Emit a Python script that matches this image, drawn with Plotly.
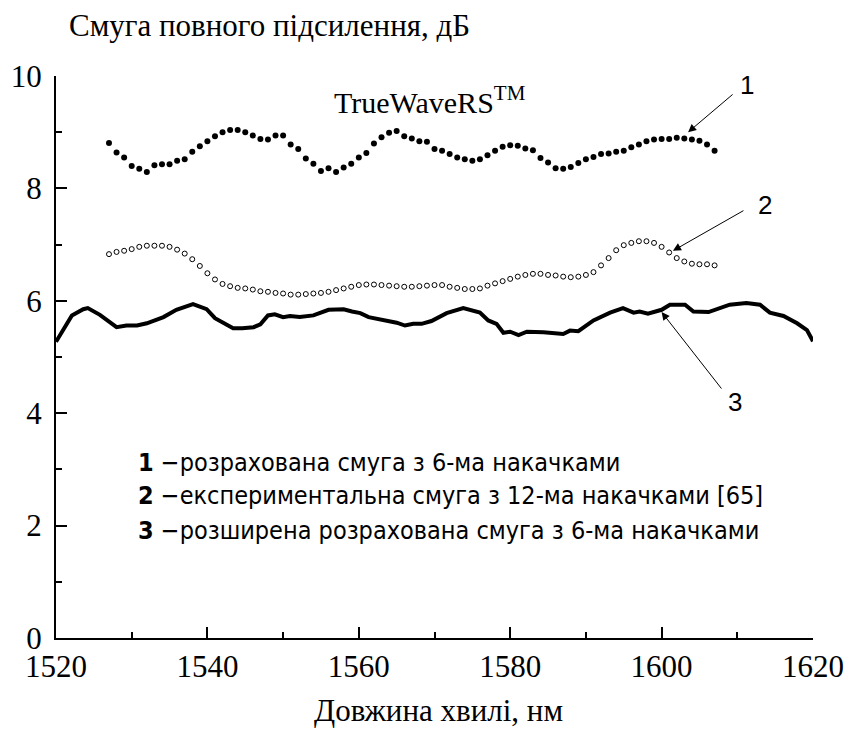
import plotly.graph_objects as go

# Wavelength grid for the two dotted curves (1 nm step)
wl_dots = list(range(1527, 1608))

# 1 - calculated band, 6 pumps
calc_6 = [
    8.81, 8.64, 8.55, 8.40, 8.35, 8.29, 8.41, 8.43, 8.43, 8.49,
    8.52, 8.65, 8.75, 8.84, 8.93, 9.00, 9.04, 9.04, 9.00, 8.94,
    8.88, 8.87, 8.94, 8.94, 8.78, 8.70, 8.53, 8.44, 8.31, 8.36,
    8.29, 8.37, 8.44, 8.55, 8.63, 8.80, 8.91, 8.99, 9.02, 8.93,
    8.89, 8.84, 8.83, 8.70, 8.67, 8.61, 8.55, 8.52, 8.49, 8.52,
    8.59, 8.67, 8.74, 8.77, 8.76, 8.71, 8.68, 8.54, 8.46, 8.36,
    8.35, 8.38, 8.45, 8.52, 8.56, 8.61, 8.62, 8.65, 8.67, 8.73,
    8.78, 8.84, 8.87, 8.88, 8.88, 8.90, 8.89, 8.87, 8.85, 8.78,
    8.67,
]

# 2 - experimental band, 12 pumps
exp_12 = [
    6.83, 6.87, 6.89, 6.92, 6.96, 6.98, 6.98, 6.98, 6.96, 6.91,
    6.84, 6.74, 6.62, 6.49, 6.38, 6.30, 6.26, 6.23, 6.22, 6.20,
    6.17, 6.16, 6.14, 6.13, 6.11, 6.11, 6.12, 6.13, 6.14, 6.16,
    6.19, 6.22, 6.25, 6.28, 6.29, 6.29, 6.28, 6.27, 6.26, 6.25,
    6.25, 6.26, 6.27, 6.28, 6.28, 6.25, 6.23, 6.21, 6.21, 6.22,
    6.27, 6.31, 6.35, 6.39, 6.43, 6.46, 6.48, 6.48, 6.46, 6.45,
    6.43, 6.42, 6.43, 6.46, 6.51, 6.63, 6.76, 6.90, 6.99, 7.03,
    7.06, 7.06, 7.03, 6.96, 6.86, 6.76, 6.70, 6.66, 6.65, 6.65,
    6.63,
]

# 3 - extended calculated band, 6 pumps
wl_ext = [
    1520.0, 1522.1, 1523.6, 1524.2, 1525.8, 1528.0, 1529.3, 1530.7, 1532.0, 1534.2,
    1535.9, 1538.1, 1539.9, 1541.0, 1543.4, 1544.6, 1546.1, 1547.0, 1548.0, 1548.9,
    1550.0, 1550.9, 1552.2, 1554.0, 1556.0, 1558.0, 1559.1, 1560.2, 1561.3, 1562.8,
    1564.1, 1565.0, 1566.1, 1567.2, 1568.3, 1569.6, 1571.6, 1573.8, 1576.0, 1577.1,
    1578.2, 1579.1, 1580.0, 1581.1, 1582.2, 1584.4, 1587.0, 1587.9, 1589.0, 1591.0,
    1593.2, 1594.9, 1596.3, 1597.1, 1598.2, 1600.0, 1601.1, 1603.1, 1604.2, 1606.2,
    1609.0, 1611.2, 1613.0, 1614.3, 1616.1, 1617.9, 1619.2, 1620.0,
]
ext_6 = [
    5.27, 5.74, 5.85, 5.87, 5.75, 5.53, 5.56, 5.56, 5.60, 5.71,
    5.84, 5.94, 5.85, 5.69, 5.51, 5.51, 5.53, 5.58, 5.74, 5.76,
    5.71, 5.73, 5.71, 5.74, 5.84, 5.85, 5.81, 5.78, 5.71, 5.67,
    5.62, 5.61, 5.56, 5.59, 5.59, 5.64, 5.78, 5.87, 5.79, 5.65,
    5.59, 5.43, 5.45, 5.39, 5.45, 5.44, 5.41, 5.47, 5.46, 5.65,
    5.79, 5.87, 5.79, 5.81, 5.77, 5.84, 5.93, 5.93, 5.81, 5.80,
    5.93, 5.96, 5.93, 5.79, 5.73, 5.60, 5.48, 5.28,
]

x_ticks = [1520, 1540, 1560, 1580, 1600, 1620]
y_ticks = [0, 2, 4, 6, 8, 10]

legend_rows = [
    ("1", "\u2212розрахована смуга з 6-ма накачками"),
    ("2", "\u2212експериментальна смуга з 12-ма накачками [65]"),
    ("3", "\u2212розширена розрахована смуга з 6-ма накачками"),
]

SERIF = "Liberation Serif"
SANS = "Liberation Sans"
NARROW = "DejaVu Sans Condensed"

fig = go.Figure()

fig.add_trace(go.Scatter(
    x=wl_dots, y=calc_6, mode="markers",
    marker=dict(symbol="circle", size=6, color="black", line=dict(width=0)),
    hoverinfo="skip",
))
fig.add_trace(go.Scatter(
    x=wl_dots, y=exp_12, mode="markers",
    marker=dict(symbol="circle-open", size=5, color="black", line=dict(width=1)),
    hoverinfo="skip",
))
fig.add_trace(go.Scatter(
    x=wl_ext, y=ext_6, mode="lines",
    line=dict(color="black", width=4),
    hoverinfo="skip",
))

annotations = []

# Curve labels with pointer arrows
pointers = [
    # tip x, tip y, tail offset (px), label x, label y, label
    (1603.5, 9.00, 46, -39, 1611.3, 9.84, "1"),
    (1601.5, 6.89, 72, -41, 1613.7, 7.70, "2"),
    (1600.0, 5.80, 61, 78, 1609.7, 4.20, "3"),
]
for tx, ty, ax, ay, lx, ly, lab in pointers:
    annotations.append(dict(
        x=tx, y=ty, xref="x", yref="y", ax=ax, ay=ay, axref="pixel", ayref="pixel",
        text="", showarrow=True, arrowhead=2, arrowsize=1.6, arrowwidth=1,
        arrowcolor="black",
    ))
    annotations.append(dict(
        x=lx, y=ly, xref="x", yref="y", text=lab, showarrow=False,
        font=dict(family=SANS, size=26, color="black"),
    ))

annotations.append(dict(
    x=1569.4, y=9.57, xref="x", yref="y", showarrow=False,
    text="TrueWaveRS<sup>TM</sup>",
    font=dict(family=SERIF, size=30, color="black"),
))

# Legend block
row_y = [3.13, 2.53, 1.92]
for (num, desc), yy in zip(legend_rows, row_y):
    annotations.append(dict(
        x=1530.6, y=yy, xref="x", yref="y", xanchor="left", yanchor="middle",
        showarrow=False,
        text="<b>" + num + "</b> " + desc,
        font=dict(family=NARROW, size=25, color="black"),
    ))

# Axis titles (positions given in page pixels from the top-left corner)
ML, MR, MT, MB = 56, 37, 76, 92
W, H = 850, 730
pw, ph = W - ML - MR, H - MT - MB


def paper_x(px):
    return (px - ML) / pw


def paper_y(py):
    return (H - py - MB) / ph


annotations.append(dict(
    x=paper_x(67), y=paper_y(26), xref="paper", yref="paper", showarrow=False,
    text="Смуга повного підсилення, дБ", xanchor="left", yanchor="middle",
    font=dict(family=SERIF, size=31, color="black"),
))
annotations.append(dict(
    x=paper_x(438), y=paper_y(710), xref="paper", yref="paper", showarrow=False,
    text="Довжина хвилі, нм", xanchor="center", yanchor="middle",
    font=dict(family=SERIF, size=31, color="black"),
))

tick_font = dict(family=SERIF, size=31, color="black")

fig.update_layout(
    width=W, height=H,
    margin=dict(l=ML, r=MR, t=MT, b=MB, pad=0, autoexpand=False),
    paper_bgcolor="white", plot_bgcolor="white",
    showlegend=False,
    annotations=annotations,
    font=dict(family=SERIF, size=31, color="black"),
)
fig.update_xaxes(
    range=[1520, 1620], tickmode="array", tickvals=x_ticks,
    ticktext=[str(v) for v in x_ticks],
    ticks="inside", ticklen=11, tickwidth=2, tickcolor="black",
    minor=dict(ticks="inside", dtick=10, ticklen=6, tickwidth=2, tickcolor="black"),
    showline=True, linewidth=2, linecolor="black", mirror=False,
    showgrid=False, zeroline=False, automargin=False,
    tickfont=tick_font, ticklabelstandoff=0,
)
fig.update_yaxes(
    range=[0, 10], tickmode="array", tickvals=y_ticks,
    ticktext=[str(v) for v in y_ticks],
    ticks="inside", ticklen=11, tickwidth=2, tickcolor="black",
    minor=dict(ticks="inside", dtick=1, ticklen=6, tickwidth=2, tickcolor="black"),
    showline=True, linewidth=2, linecolor="black", mirror=False,
    showgrid=False, zeroline=False, automargin=False,
    tickfont=tick_font, ticklabelstandoff=6,
)

fig.write_html("out.html")
